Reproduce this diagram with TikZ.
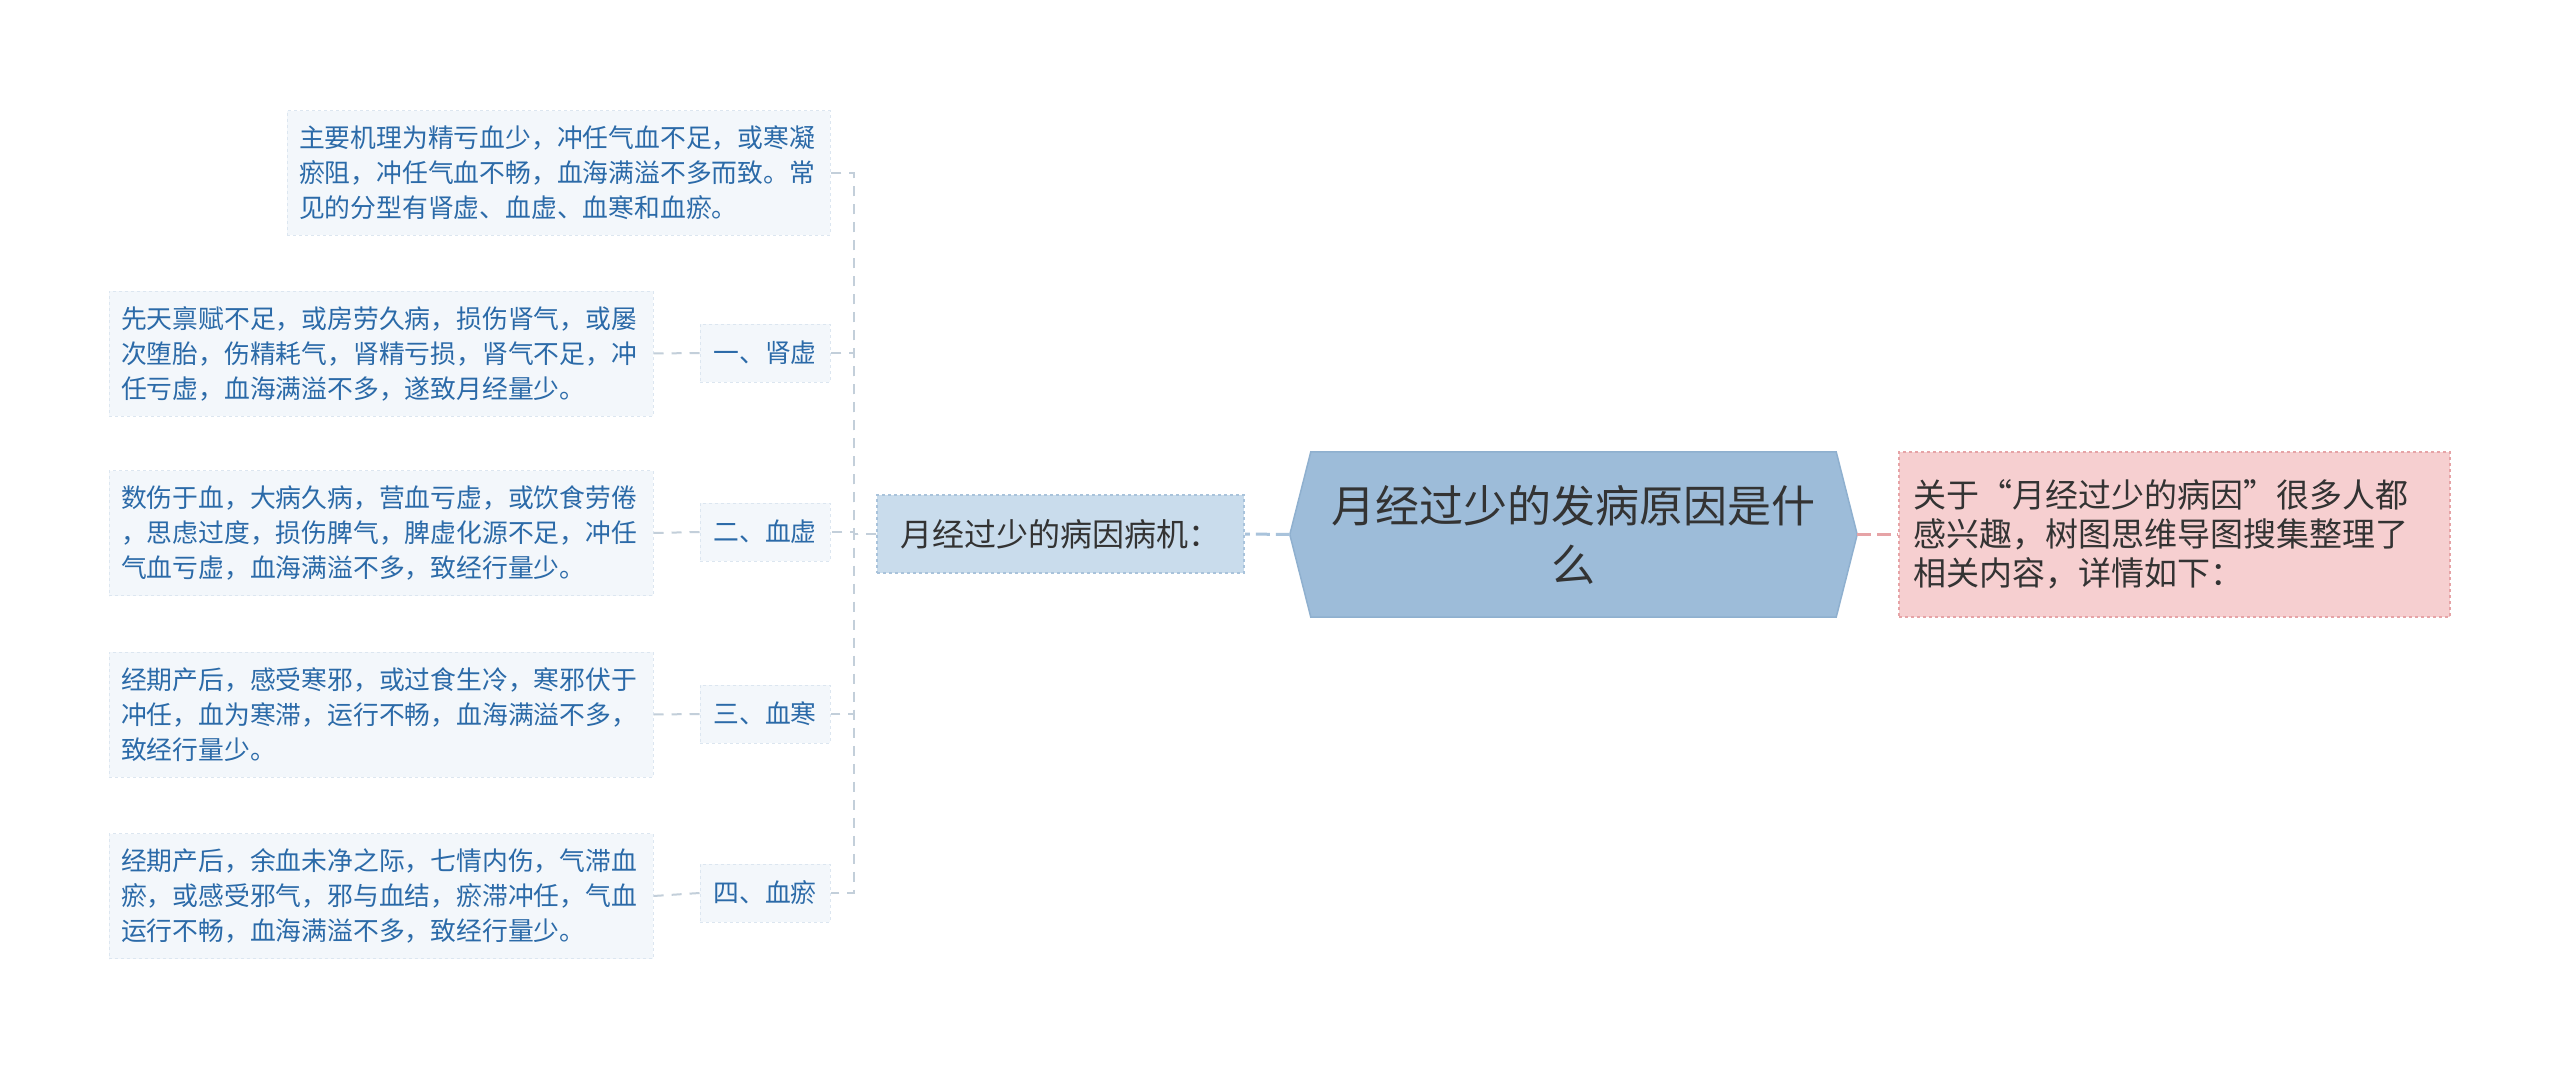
\documentclass[tikz,border=0pt]{standalone}
\usepackage{fontspec}
\newfontfamily\cjk{Noto Sans CJK SC}
\usetikzlibrary{backgrounds}
\definecolor{leaffill}{HTML}{F3F7FB}
\definecolor{leafborder}{HTML}{DCE6F0}
\definecolor{leaftext}{HTML}{2B6AA8}
\definecolor{midfill}{HTML}{C9DCEC}
\definecolor{midborder}{HTML}{A9C3DB}
\definecolor{cfill}{HTML}{9DBCD9}
\definecolor{cborder}{HTML}{8FB0CF}
\definecolor{rfill}{HTML}{F6CFD0}
\definecolor{rborder}{HTML}{E6A3A6}
\definecolor{conn}{HTML}{C3CFDA}
\definecolor{darktext}{HTML}{333333}
\tikzset{
  leafbox/.style={fill=leaffill, draw=leafborder, dashed, line width=1pt, text=leaftext,
    font=\cjk\fontsize{25.8}{35}\selectfont, align=left, inner xsep=12pt, inner ysep=0pt,
    text width=520pt, minimum height=125pt},
  keybox/.style={fill=leaffill, draw=leafborder, dashed, line width=1pt, text=leaftext,
    font=\cjk\fontsize{25.8}{35}\selectfont, align=center, inner sep=0pt,
    minimum width=130pt, minimum height=58pt},
  midbox/.style={fill=midfill, draw=midborder, dashed, line width=1.5pt, text=darktext,
    font=\cjk\fontsize{32}{40}\selectfont, align=center, inner sep=0pt,
    minimum width=367pt, minimum height=78pt},
  rootbox/.style={text=darktext, font=\cjk\fontsize{44}{59}\selectfont, align=center,
    inner sep=0pt, minimum width=567pt, minimum height=165pt, text width=520pt},
  notebox/.style={fill=rfill, draw=rborder, dashed, line width=1.5pt, text=darktext,
    font=\cjk\fontsize{33}{39}\selectfont, align=left, inner xsep=14pt, inner ysep=0pt,
    text width=523pt, minimum height=165pt},
  connline/.style={draw=conn, line width=2pt, dash pattern=on 10pt off 8pt},
}
\begin{document}
\begin{tikzpicture}[x=1pt,y=-1pt]
\useasboundingbox (0,0) rectangle (2560,1070);

% root
\node[rootbox] (c) at (1573.5,534.5) {月经过少的发病原因是什\\么};
\begin{scope}[on background layer]
\fill[white] (0,0) rectangle (2560,1070);
\fill[cfill, draw=cborder, line width=1.5pt]
  ([xshift=21pt]c.north west) -- ([xshift=-21pt]c.north east) -- (c.east)
  -- ([xshift=-21pt]c.south east) -- ([xshift=21pt]c.south west) -- (c.west) -- cycle;
\end{scope}

% right note
\node[notebox] (r) at (2174.5,534.5) {关于“月经过少的病因”很多人都\\感兴趣，树图思维导图搜集整理了\\相关内容，详情如下：};

% left main branch
\node[midbox] (m) at (1060.5,534) {月经过少的病因病机：};

% top text
\node[leafbox, text width=519pt, minimum height=124pt] (t0) at (558.5,173) {主要机理为精亏血少，冲任气血不足，或寒凝\\瘀阻，冲任气血不畅，血海满溢不多而致。常\\见的分型有肾虚、血虚、血寒和血瘀。};

% keys
\node[keybox] (k1) at (765,353) {一、肾虚};
\node[keybox] (k2) at (765,532) {二、血虚};
\node[keybox] (k3) at (765,714) {三、血寒};
\node[keybox] (k4) at (765,893) {四、血瘀};

% leaves
\node[leafbox] (l1) at (381,353.5) {先天禀赋不足，或房劳久病，损伤肾气，或屡\\次堕胎，伤精耗气，肾精亏损，肾气不足，冲\\任亏虚，血海满溢不多，遂致月经量少。};
\node[leafbox] (l2) at (381,533) {数伤于血，大病久病，营血亏虚，或饮食劳倦\\，思虑过度，损伤脾气，脾虚化源不足，冲任\\气血亏虚，血海满溢不多，致经行量少。};
\node[leafbox] (l3) at (381,714.5) {经期产后，感受寒邪，或过食生冷，寒邪伏于\\冲任，血为寒滞，运行不畅，血海满溢不多，\\致经行量少。};
\node[leafbox] (l4) at (381,896) {经期产后，余血未净之际，七情内伤，气滞血\\瘀，或感受邪气，邪与血结，瘀滞冲任，气血\\运行不畅，血海满溢不多，致经行量少。};

% connectors
\draw[draw=midborder, line width=3pt, dash pattern=on 14pt off 6pt] (c.west) -- (m.east);
\draw[draw=rborder, line width=3pt, dash pattern=on 14pt off 6pt] (c.east) -- (r.west);

\coordinate (b) at (854,534);
\draw[connline] (m.west) -- (b) |- (t0.east);
\draw[connline] (m.west) -- (b) |- (k1.east);
\draw[connline] (m.west) -- (b) |- (k2.east);
\draw[connline] (m.west) -- (b) |- (k3.east);
\draw[connline] (m.west) -- (b) |- (k4.east);

\draw[connline] (k1.west) -- (l1.east);
\draw[connline] (k2.west) -- (l2.east);
\draw[connline] (k3.west) -- (l3.east);
\draw[connline] (k4.west) -- (l4.east);
\end{tikzpicture}
\end{document}
